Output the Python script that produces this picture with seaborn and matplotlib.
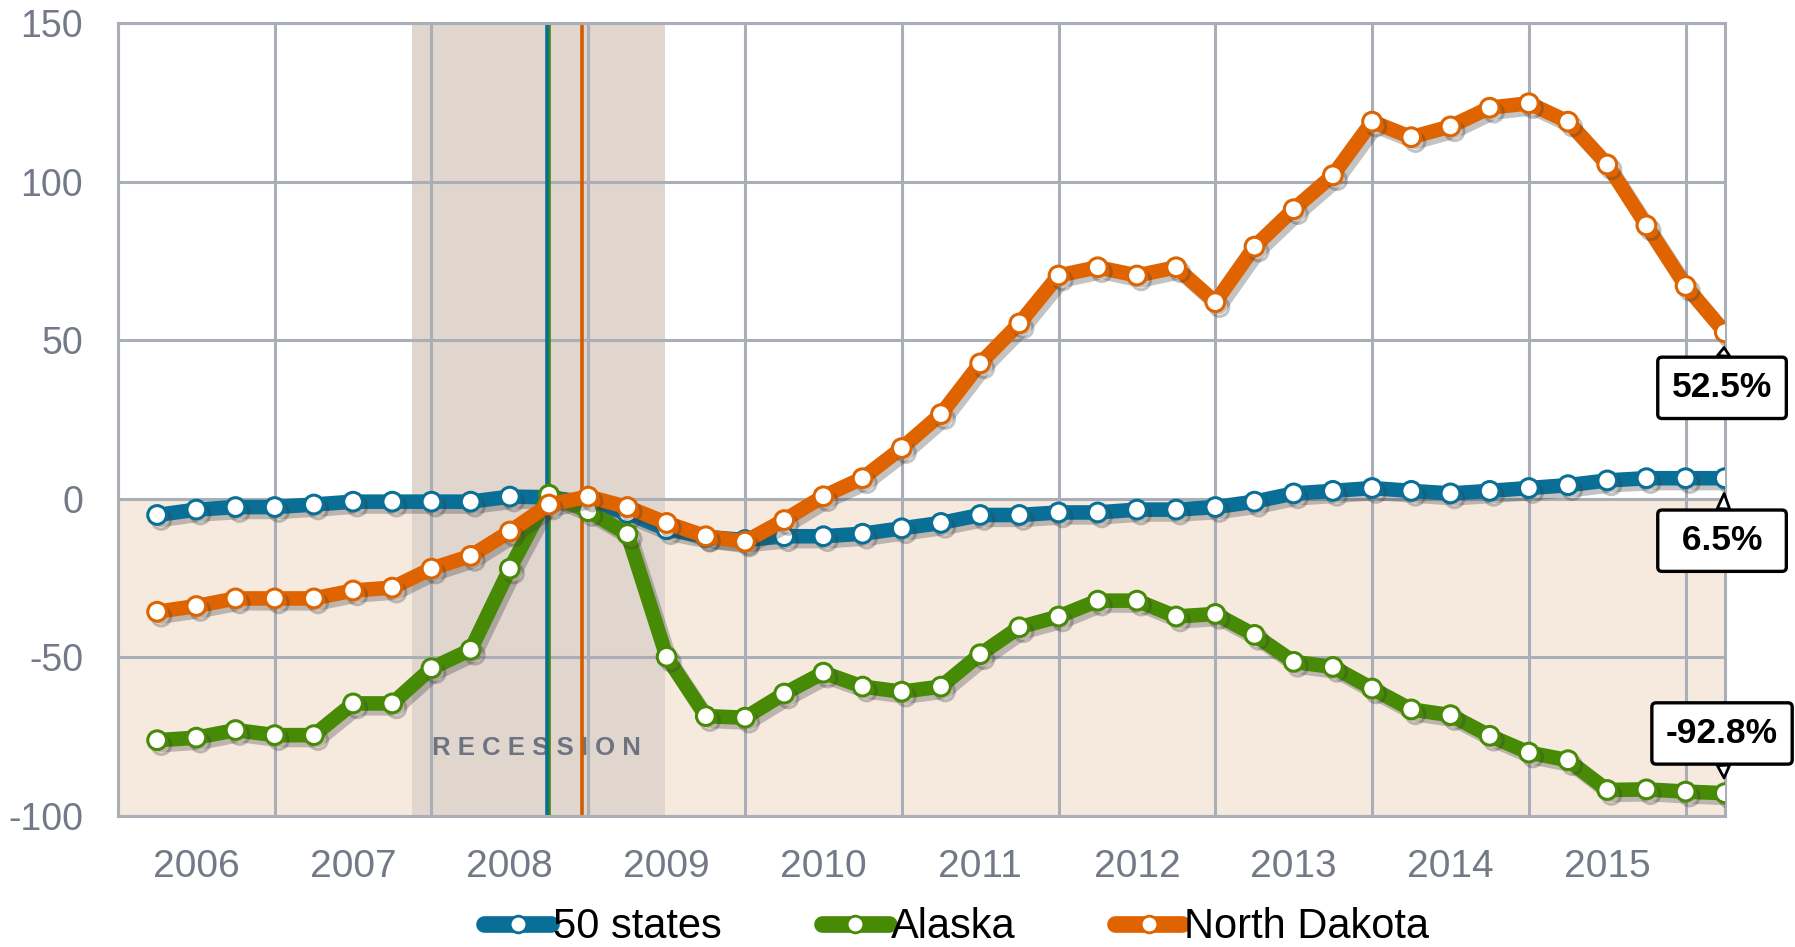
import numpy as np
import pandas as pd
import matplotlib
matplotlib.use("Agg")
import matplotlib.pyplot as plt
import matplotlib.patheffects as pe
from matplotlib.lines import Line2D
import seaborn as sns

# ---------------- data ----------------
years = ["2006", "2007", "2008", "2009", "2010", "2011", "2012", "2013", "2014", "2015"]
series_names = ["50 states", "Alaska", "North Dakota"]

# quarterly % change, 2006Q1 ... 2016Q1
us_50 = [-5.1, -3.4, -2.6, -2.6, -1.8, -0.9, -0.9, -0.9, -0.9, 0.7,
         0.5, -1.2, -4.5, -9.6, -12.0, -13.0, -11.8, -11.8, -11.0, -9.3,
         -7.6, -5.1, -5.1, -4.3, -4.3, -3.4, -3.4, -2.6, -0.9, 1.7,
         2.5, 3.4, 2.5, 1.7, 2.5, 3.4, 4.3, 5.8, 6.5, 6.5, 6.5]
alaska = [-76.1, -75.3, -72.9, -74.5, -74.5, -64.5, -64.5, -53.4, -47.6, -22.0,
          1.3, -3.9, -11.1, -49.8, -68.5, -69.0, -61.4, -54.8, -59.2, -60.8,
          -59.2, -49.0, -40.5, -37.1, -32.1, -32.1, -37.1, -36.3, -42.9, -51.4,
          -53.0, -59.8, -66.4, -68.2, -74.7, -80.0, -82.4, -91.8, -91.6, -92.3, -92.8]
north_dakota = [-35.6, -33.8, -31.4, -31.4, -31.4, -28.9, -28.0, -22.0, -18.0, -10.3,
                -1.8, 0.7, -2.6, -7.6, -11.8, -13.5, -6.7, 0.8, 6.5, 16.0,
                26.7, 42.7, 55.3, 70.4, 73.0, 70.4, 73.0, 62.0, 79.5, 91.3,
                102.0, 118.9, 114.0, 117.4, 123.3, 124.7, 118.9, 105.4, 86.2, 67.1, 52.5]
end_labels = ["6.5%", "-92.8%", "52.5%"]

# recession period and peak quarters (quarter index, 0 = 2006Q1)
recession = [6.5, 12.95]
peak_us_alaska = 9.95
peak_nd = 10.83

# ---------------- style ----------------
sns.set_style("white")
plt.rcParams["font.family"] = ["Liberation Sans", "DejaVu Sans"]
plt.rcParams["axes.unicode_minus"] = False

BLUE = "#0a6f96"
GREEN = "#478a06"
ORANGE = "#df6400"
GRID = "#a9aeb7"
TICK = "#737987"
colors = [BLUE, GREEN, ORANGE]

fig = plt.figure(figsize=(17.95, 9.47), dpi=100)
ax = fig.add_axes([0.0657, 0.1383, 0.8952, 0.8374])

n = len(us_50)
x = np.arange(n)
df = pd.DataFrame({"q": np.tile(x, 3),
                   "value": us_50 + alaska + north_dakota,
                   "series": np.repeat(series_names, n)})

ax.set_xlim(-1, n - 1)
ax.set_ylim(-100, 150)

# background bands
ax.axhspan(-100, 0, color="#f6eadf", zorder=0.1, lw=0)
ax.axvspan(recession[0], recession[1], color="#e0d6cd", zorder=0.2, lw=0)

ax.text(np.mean(recession) - 0.05, -78.5, "R E C E S S I O N",
        ha="center", va="center", fontsize=18.5, fontweight="bold",
        color="#6d7381", zorder=1.5)

# peak markers
ax.axvline(peak_us_alaska + 0.05, color=GREEN, lw=2.6, zorder=1.8)
ax.axvline(peak_us_alaska, color=BLUE, lw=2.6, zorder=1.9)
ax.axvline(peak_nd, color="#d35c00", lw=2.6, zorder=1.9)

shadow = [pe.SimpleLineShadow(offset=(3, -3.5), shadow_color="#3a3a3a", alpha=0.3),
          pe.Normal()]

for i, (name, c) in enumerate(zip(series_names, colors)):
    sub = df[df["series"] == name]
    sns.lineplot(data=sub, x="q", y="value", ax=ax, color=c, linewidth=10.5,
                 marker="o", markersize=13.5, markerfacecolor="white",
                 markeredgecolor=c, markeredgewidth=2.2, zorder=3 + i,
                 path_effects=shadow, legend=False, solid_joinstyle="round",
                 solid_capstyle="round")

# end labels
vals_end = [us_50[-1], alaska[-1], north_dakota[-1]]
offsets = [-45, 43, -40]
texts = [" " + end_labels[0] + " ", end_labels[1], end_labels[2]]
for v, off, t in zip(vals_end, offsets, texts):
    ax.annotate(t, xy=(n - 1, v), xytext=(-2, off), textcoords="offset points",
                ha="center", va="center", fontsize=25.5, fontweight="bold",
                color="black", zorder=10, annotation_clip=False,
                bbox=dict(boxstyle="round,pad=0.4,rounding_size=0.12",
                          fc="white", ec="black", lw=2.4),
                arrowprops=dict(arrowstyle="wedge,tail_width=0.35,shrink_factor=0.5",
                                fc="white", ec="black", lw=2, shrinkA=0, shrinkB=11))

# ticks & grid
ax.set_xticks(np.arange(-1, n, 4))
ax.set_xticklabels([])
ax.set_xticks(np.arange(1, n, 4), labels=years, minor=True)
ax.tick_params(axis="x", which="both", length=0)
ax.tick_params(axis="x", which="minor", labelsize=28, labelcolor=TICK, pad=24)
ax.set_yticks([-100, -50, 0, 50, 100, 150])
ax.set_yticklabels(["-100", "-50", "0", "50", "100", "150"])
ax.tick_params(axis="y", length=0, labelsize=27, labelcolor=TICK, pad=25)
ax.grid(True, which="major", color=GRID, lw=2.2)
ax.set_axisbelow(True)
for s in ax.spines.values():
    s.set_color(GRID)
    s.set_linewidth(2.2)
ax.set_xlabel("")
ax.set_ylabel("")

handles = [Line2D([0], [0], color=c, lw=12, solid_capstyle="round",
                  marker="o", markersize=12, markerfacecolor="white",
                  markeredgecolor=c, markeredgewidth=2) for c in colors]
fig.legend(handles, series_names, loc="center", bbox_to_anchor=(0.533, 0.021),
           ncol=3, frameon=False, fontsize=30, handlelength=1.6,
           handletextpad=0.05, columnspacing=2.4, labelcolor="black")

fig.savefig("out.png", dpi=100)
